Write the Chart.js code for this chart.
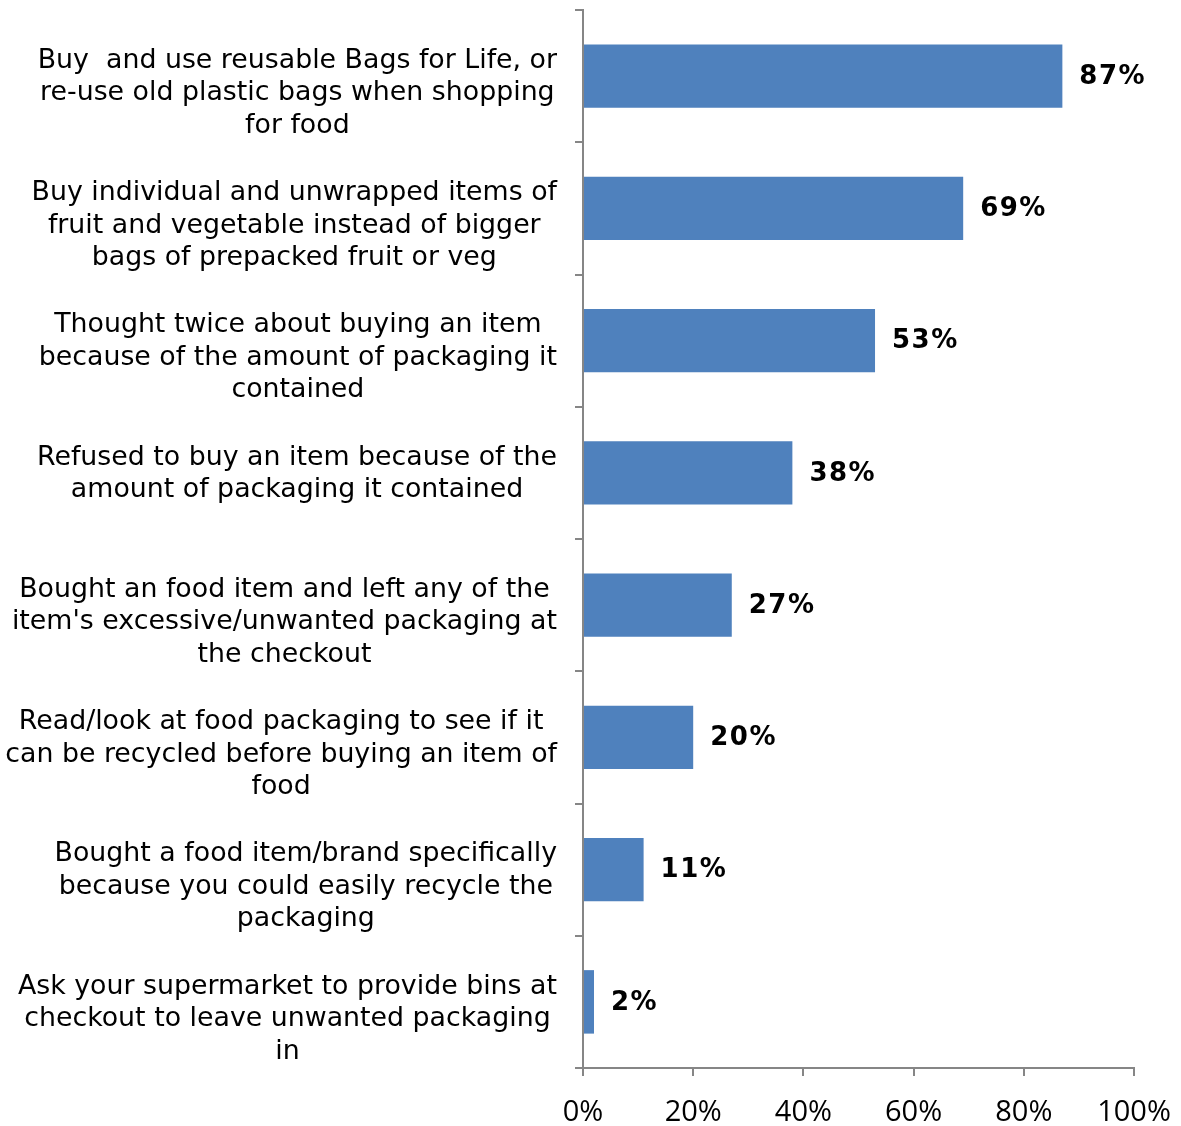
<!DOCTYPE html>
<html>
<head>
<meta charset="utf-8">
<script src="https://cdn.jsdelivr.net/npm/chart.js@4"></script>
<style>
  html, body { margin: 0; padding: 0; background: #fff; }
  #wrap { width: 1181px; height: 1126px; position: relative; }
</style>
</head>
<body>
<div id="wrap"><canvas id="chart"></canvas></div>
<script>
// category labels, one array of lines each
const categories = [
    ['Buy  and use reusable Bags for Life, or', 're-use old plastic bags when shopping', 'for food'],
    ['Buy individual and unwrapped items of', 'fruit and vegetable instead of bigger', 'bags of prepacked fruit or veg'],
    ['Thought twice about buying an item', 'because of the amount of packaging it', 'contained'],
    ['Refused to buy an item because of the', 'amount of packaging it contained'],
    ['Bought an food item and left any of the', "item's excessive/unwanted packaging at", 'the checkout'],
    ['Read/look at food packaging to see if it', 'can be recycled before buying an item of', 'food'],
    ['Bought a food item/brand specifically', 'because you could easily recycle the', 'packaging'],
    ['Ask your supermarket to provide bins at', 'checkout to leave unwanted packaging', 'in']
];
const values = [87, 69, 53, 38, 27, 20, 11, 2];
const xTicks = [0, 20, 40, 60, 80, 100];

const axisGray = '#868686';
const labelFont = '26.8px "DejaVu Sans", Verdana, sans-serif';

// draws the category text and the value labels
const textPlugin = {
    id: 'textPlugin',
    afterDatasetsDraw(chart) {
        const ctx = chart.ctx;
        const yScale = chart.scales.y;
        const xScale = chart.scales.x;
        const lineH = 32.5;
        ctx.save();
        ctx.fillStyle = '#000';
        ctx.textBaseline = 'middle';

        categories.forEach((lines, i) => {
            const cy = yScale.getPixelForValue(i);
            ctx.font = labelFont;
            ctx.letterSpacing = '0px';
            const maxW = Math.max(...lines.map(l => ctx.measureText(l).width));
            const cx = xScale.left - 26 - maxW / 2;
            ctx.textAlign = 'center';
            lines.forEach((line, j) => {
                ctx.fillText(line, cx, cy - lineH / 2 + 1 + j * lineH);
            });

            ctx.font = 'bold 26px "DejaVu Sans", Verdana, sans-serif';
            ctx.letterSpacing = '1.5px';
            ctx.textAlign = 'left';
            ctx.fillText(values[i] + '%', xScale.getPixelForValue(values[i]) + 17, cy + 1);
        });
        ctx.restore();
    }
};

new Chart(document.getElementById('chart'), {
    type: 'bar',
    data: {
        labels: categories,
        datasets: [{
            data: values,
            backgroundColor: '#4F81BD',
            borderWidth: 0,
            barPercentage: 0.48,
            categoryPercentage: 1
        }]
    },
    options: {
        indexAxis: 'y',
        responsive: true,
        maintainAspectRatio: false,
        animation: false,
        layout: { padding: { top: 10, right: 47, left: 0, bottom: 0 } },
        plugins: {
            legend: { display: false },
            tooltip: { enabled: false }
        },
        scales: {
            y: {
                afterFit(scale) { scale.width = 583; },
                ticks: { display: false },
                grid: {
                    offset: true,
                    drawOnChartArea: false,
                    tickLength: 8,
                    color: axisGray,
                    lineWidth: 2
                },
                border: { color: axisGray, width: 2 }
            },
            x: {
                min: 0,
                max: 100,
                afterBuildTicks(scale) {
                    scale.ticks = xTicks.map(v => ({ value: v }));
                },
                afterFit(scale) {
                    scale.height = 58;
                    scale.paddingLeft = 0;
                    scale.paddingRight = 0;
                },
                ticks: {
                    callback: v => v + '%',
                    color: '#000',
                    padding: 19,
                    maxRotation: 0,
                    font: { family: '"Open Sans", sans-serif', size: 29 }
                },
                grid: {
                    drawOnChartArea: false,
                    tickLength: 8,
                    color: axisGray,
                    lineWidth: 2
                },
                border: { color: axisGray, width: 2 }
            }
        }
    },
    plugins: [textPlugin]
});
</script>
</body>
</html>
